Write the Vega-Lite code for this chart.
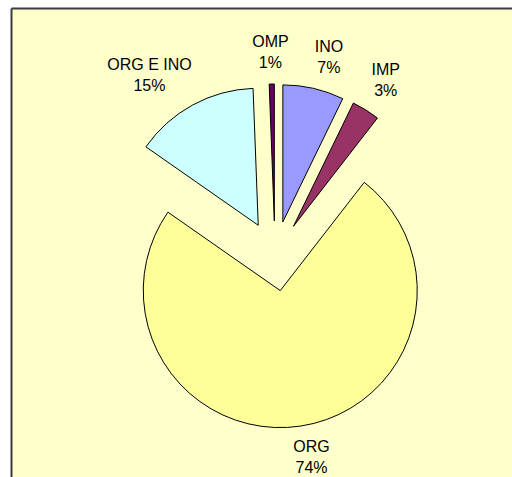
{
  "$schema": "https://vega.github.io/schema/vega-lite/v6.json",
  "width": 501,
  "height": 469,
  "autosize": {"type": "none"},
  "padding": {"left": 11, "top": 8, "right": 0, "bottom": 0},
  "background": "#FFFFFF",
  "view": {"fill": "#FFFFCC", "stroke": null},
  "data": {
    "values": [
      {"cat": "INO", "value": 7.2},
      {"cat": "IMP", "value": 3.3},
      {"cat": "ORG", "value": 74.2},
      {"cat": "ORG E INO", "value": 14.7},
      {"cat": "OMP", "value": 0.6}
    ]
  },
  "transform": [
    {"window": [{"op": "sum", "field": "value", "as": "c1"}], "frame": [null, 0]},
    {"calculate": "datum.c1 - datum.value", "as": "c0"},
    {"calculate": "PI * (datum.c0 + datum.c1) / 100", "as": "m"},
    {"calculate": "35 * sin(datum.m)", "as": "ex"},
    {"calculate": "35 * cos(datum.m)", "as": "ey"},
    {"calculate": "187 * sin(datum.m) + clamp(4 * sin(datum.m), -0.85, 0.85) * length(datum.cat) * 4.7", "as": "lx"},
    {"calculate": "187 * cos(datum.m) + clamp(4 * cos(datum.m), -1, 1) * 16.5 + 10.5", "as": "ly"},
    {"calculate": "datum.cat + '\\n' + format(datum.value, '.0f') + '%'", "as": "txt"}
  ],
  "layer": [
    {
      "mark": {"type": "arc", "outerRadius": 137, "stroke": "#000000", "strokeWidth": 1},
      "encoding": {
        "theta": {"field": "c0", "type": "quantitative", "scale": {"domain": [0, 100]}},
        "theta2": {"field": "c1"},
        "x": {
          "field": "ex", "type": "quantitative",
          "scale": {"domain": [-264, 237], "nice": false, "zero": false},
          "axis": {"orient": "top", "ticks": false, "labels": false, "grid": false, "title": null, "domainColor": "#3C3C3C", "domainWidth": 2}
        },
        "y": {
          "field": "ey", "type": "quantitative",
          "scale": {"domain": [-221, 248], "nice": false, "zero": false},
          "axis": {"orient": "left", "ticks": false, "labels": false, "grid": false, "title": null, "domainColor": "#3C3C3C", "domainWidth": 2}
        },
        "color": {
          "field": "cat",
          "type": "nominal",
          "scale": {
            "domain": ["INO", "IMP", "ORG", "ORG E INO", "OMP"],
            "range": ["#9999FF", "#993366", "#FFFF99", "#CCFFFF", "#660066"]
          },
          "legend": null
        }
      }
    },
    {
      "mark": {"type": "text", "font": "Liberation Sans", "fontSize": 16, "lineHeight": 21, "lineBreak": "\n", "align": "center", "baseline": "middle", "fill": "#000000"},
      "encoding": {
        "x": {"field": "lx", "type": "quantitative", "scale": {"domain": [-264, 237], "nice": false, "zero": false}},
        "y": {"field": "ly", "type": "quantitative", "scale": {"domain": [-221, 248], "nice": false, "zero": false}},
        "text": {"field": "txt", "type": "nominal"}
      }
    }
  ]
}
